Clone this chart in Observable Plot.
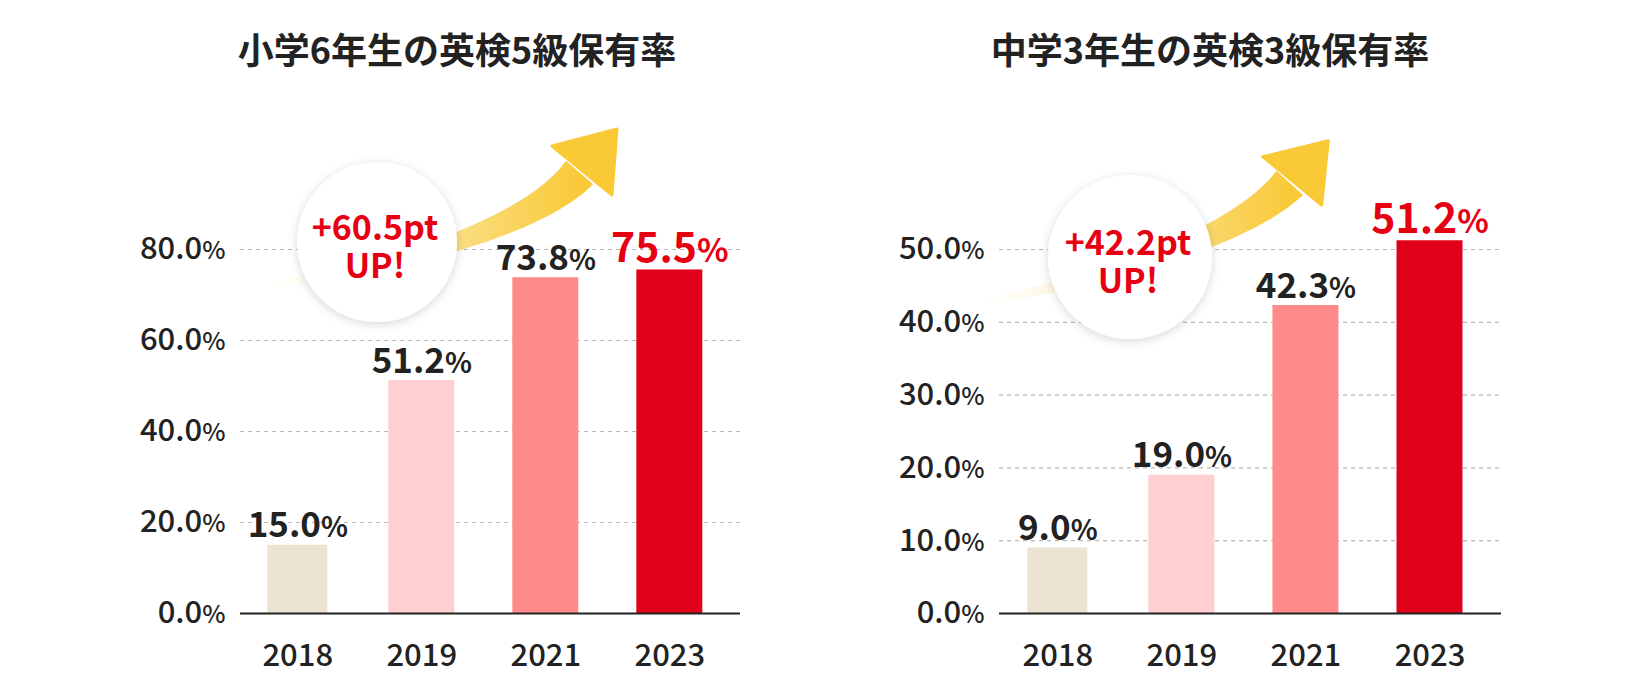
<!DOCTYPE html>
<html>
<head>
<meta charset="utf-8">
<script src="https://cdn.jsdelivr.net/npm/d3@7"></script>
<script src="https://cdn.jsdelivr.net/npm/@observablehq/plot@0.6"></script>
<style>
  body { margin: 0; background: #fff; font-family: "Noto Sans CJK JP", "Noto Sans", sans-serif; }
  #wrap { position: relative; width: 1640px; height: 700px; overflow: hidden; }
  .panel { position: absolute; top: 0; width: 820px; height: 700px; }
  .title { position: absolute; top: 48px; transform: translate(-50%, -50%); font-size: 36px; font-weight: 700; color: #222; white-space: nowrap; line-height: 1; }
  .panel svg { position: absolute; top: 90px; left: 0; }
</style>
</head>
<body>
<div id="wrap"></div>
<script>
// ---- data ----
const years = ["2018", "2019", "2021", "2023"];
const grade5Rates = [15.0, 51.2, 73.8, 75.5];   // 小学6年生 英検5級
const grade3Rates = [9.0, 19.0, 42.3, 51.2];    // 中学3年生 英検3級
const barColors = ["#ede3d2", "#ffcfd2", "#ff8a8a", "#e10019"];
const chartTitles = ["小学6年生の英検5級保有率", "中学3年生の英検3級保有率"];
const grade5Ticks = [0, 20, 40, 60, 80];
const grade3Ticks = [0, 10, 20, 30, 40, 50];
const gainLabels = ["+60.5pt", "+42.2pt"];
const upLabel = "UP!";

const SVGNS = "http://www.w3.org/2000/svg";
const FONT = "'Noto Sans CJK JP', 'Noto Sans', sans-serif";

function bodyPath(P0, P1, P2, P3, w0, w1) {
  const N = 60, L = [], R = [];
  for (let i = 0; i <= N; i++) {
    const t = i / N, m = 1 - t;
    const x = m*m*m*P0[0] + 3*m*m*t*P1[0] + 3*m*t*t*P2[0] + t*t*t*P3[0];
    const y = m*m*m*P0[1] + 3*m*m*t*P1[1] + 3*m*t*t*P2[1] + t*t*t*P3[1];
    const dx = 3*m*m*(P1[0]-P0[0]) + 6*m*t*(P2[0]-P1[0]) + 3*t*t*(P3[0]-P2[0]);
    const dy = 3*m*m*(P1[1]-P0[1]) + 6*m*t*(P2[1]-P1[1]) + 3*t*t*(P3[1]-P2[1]);
    const len = Math.hypot(dx, dy), nx = -dy/len, ny = dx/len;
    const w = (w0 + (w1 - w0) * Math.pow(t, 1.5)) / 2;
    L.push([x + nx*w, y + ny*w]); R.push([x - nx*w, y - ny*w]);
  }
  const pts = L.concat(R.reverse());
  return "M" + pts.map(p => p[0].toFixed(1) + "," + p[1].toFixed(1)).join("L") + "Z";
}

function decoration(cfg, id) {
  return () => {
    const g = d3.create("svg:g");
    const defs = g.append("defs");
    const grad = defs.append("linearGradient").attr("id", "grad" + id)
      .attr("gradientUnits", "userSpaceOnUse")
      .attr("x1", cfg.body[0][0]).attr("y1", 0).attr("x2", cfg.body[3][0]).attr("y2", 0);
    grad.append("stop").attr("offset", 0).attr("stop-color", "#fff3c4").attr("stop-opacity", 0);
    grad.append("stop").attr("offset", 0.35).attr("stop-color", "#fde9a8").attr("stop-opacity", 0.55);
    grad.append("stop").attr("offset", 0.62).attr("stop-color", "#fbdd80").attr("stop-opacity", 1);
    grad.append("stop").attr("offset", 1).attr("stop-color", "#f9c938").attr("stop-opacity", 1);
    const f = defs.append("filter").attr("id", "shadow" + id).attr("x", "-30%").attr("y", "-30%").attr("width", "160%").attr("height", "160%");
    f.append("feDropShadow").attr("dx", 0).attr("dy", 2).attr("stdDeviation", 5)
      .attr("flood-color", "#000").attr("flood-opacity", 0.16);
    const [P0, P1, P2, P3] = cfg.body;
    g.append("path").attr("d", bodyPath(P0, P1, P2, P3, 8, 36)).attr("fill", `url(#grad${id})`);
    g.append("path").attr("d", "M" + cfg.head.map(p => p.join(",")).join("L") + "Z")
      .attr("fill", "#f9c936").attr("stroke", "#f9c936").attr("stroke-width", 3).attr("stroke-linejoin", "round");
    g.append("circle").attr("cx", cfg.circle[0]).attr("cy", cfg.circle[1]).attr("r", cfg.circle[2])
      .attr("fill", "#fff").attr("filter", `url(#shadow${id})`);
    const t = g.append("text").attr("x", cfg.text[0]).attr("y", cfg.text[1])
      .attr("text-anchor", "middle").attr("fill", "#e60012").attr("font-size", 34).attr("font-weight", 700)
      .attr("font-family", FONT);
    t.append("tspan").attr("x", cfg.text[0]).text(cfg.gain);
    t.append("tspan").attr("x", cfg.text[0]).attr("dy", 38).text(upLabel);
    return g.node();
  };
}

function splitPercent(svg, ratio) {
  svg.querySelectorAll("text").forEach(t => {
    if (t.children.length) return;
    const m = /^(.*\d)%$/.exec(t.textContent);
    if (!m) return;
    t.textContent = m[1];
    const ts = document.createElementNS(SVGNS, "tspan");
    ts.setAttribute("font-size", ratio + "em");
    ts.textContent = "%";
    t.appendChild(ts);
  });
}

function makeChart(cfg, id) {
  const data = years.map((year, i) => ({year, value: cfg.values[i]}));
  const last = years[years.length - 1];
  const first = years[0];
  const svg = Plot.plot({
    width: 820,
    height: 610,
    marginLeft: cfg.marginLeft,
    marginRight: cfg.marginRight,
    marginTop: 159,
    marginBottom: 87,
    style: {fontFamily: FONT, color: "#222", background: "transparent", overflow: "visible"},
    x: {type: "band", domain: years, range: cfg.xRange, paddingInner: 0.468, paddingOuter: 0, round: false, label: null},
    y: {domain: [0, cfg.max], label: null},
    color: {domain: years, range: barColors},
    marks: [
      Plot.gridY(cfg.ticks.filter(d => d > 0), {stroke: "#b9b9b9", strokeOpacity: 1, strokeDasharray: "4,4", strokeWidth: 1.2}),
      Plot.barY(data.filter(d => d.year === first), {x: "year", y: "value", fill: "year", insetLeft: 3, insetRight: 3}),
      Plot.barY(data.filter(d => d.year !== first), {x: "year", y: "value", fill: "year"}),
      decoration(cfg.deco, id),
      Plot.ruleY([0], {stroke: "#222", strokeWidth: 2}),
      Plot.text(data.filter(d => d.year !== last), {x: "year", y: "value", text: d => d.value.toFixed(1) + "%",
        lineAnchor: "bottom", dy: -8, fontSize: 35, fontWeight: 700, fill: "#222"}),
      Plot.text(data.filter(d => d.year === last), {x: "year", y: "value", text: d => d.value.toFixed(1) + "%",
        lineAnchor: "bottom", dy: -8, fontSize: 41, fontWeight: 700, fill: "#e60012"}),
      Plot.axisY(cfg.ticks, {tickSize: 0, tickPadding: 15, tickFormat: d => d.toFixed(1) + "%", fontSize: 31, fontWeight: 500, fill: "#222", label: null}),
      Plot.axisX({tickSize: 0, tickPadding: 30, fontSize: 31, fontWeight: 500, fill: "#222", label: null})
    ]
  });
  splitPercent(svg, 0.8);
  return svg;
}

const configs = [
  {
    left: 0, titleX: 457, title: chartTitles[0], values: grade5Rates, max: 80, ticks: grade5Ticks,
    marginLeft: 240, marginRight: 80, xRange: [264.3, 702.3],
    deco: {
      gain: gainLabels[0],
      circle: [377, 152, 80], text: [375, 150],
      body: [[268, 196], [388, 178], [530.75, 139], [579.5, 82.5]],
      head: [[552, 56], [617, 39], [612, 105]]
    }
  },
  {
    left: 820, titleX: 390, title: chartTitles[1], values: grade3Rates, max: 50, ticks: grade3Ticks,
    marginLeft: 179, marginRight: 139, xRange: [204.3, 642.5],
    deco: {
      gain: gainLabels[1],
      circle: [310, 167, 82], text: [308, 165],
      body: [[160, 212], [280, 192], [419.5, 147.8], [469.7, 92.9]],
      head: [[442.7, 66.7], [508.3, 50.7], [501.7, 115]]
    }
  }
];

const wrap = document.getElementById("wrap");
configs.forEach((cfg, i) => {
  const panel = document.createElement("div");
  panel.className = "panel";
  panel.style.left = cfg.left + "px";
  const title = document.createElement("div");
  title.className = "title";
  title.style.left = cfg.titleX + "px";
  title.textContent = cfg.title;
  panel.appendChild(title);
  panel.appendChild(makeChart(cfg, i));
  wrap.appendChild(panel);
});
</script>
</body>
</html>
